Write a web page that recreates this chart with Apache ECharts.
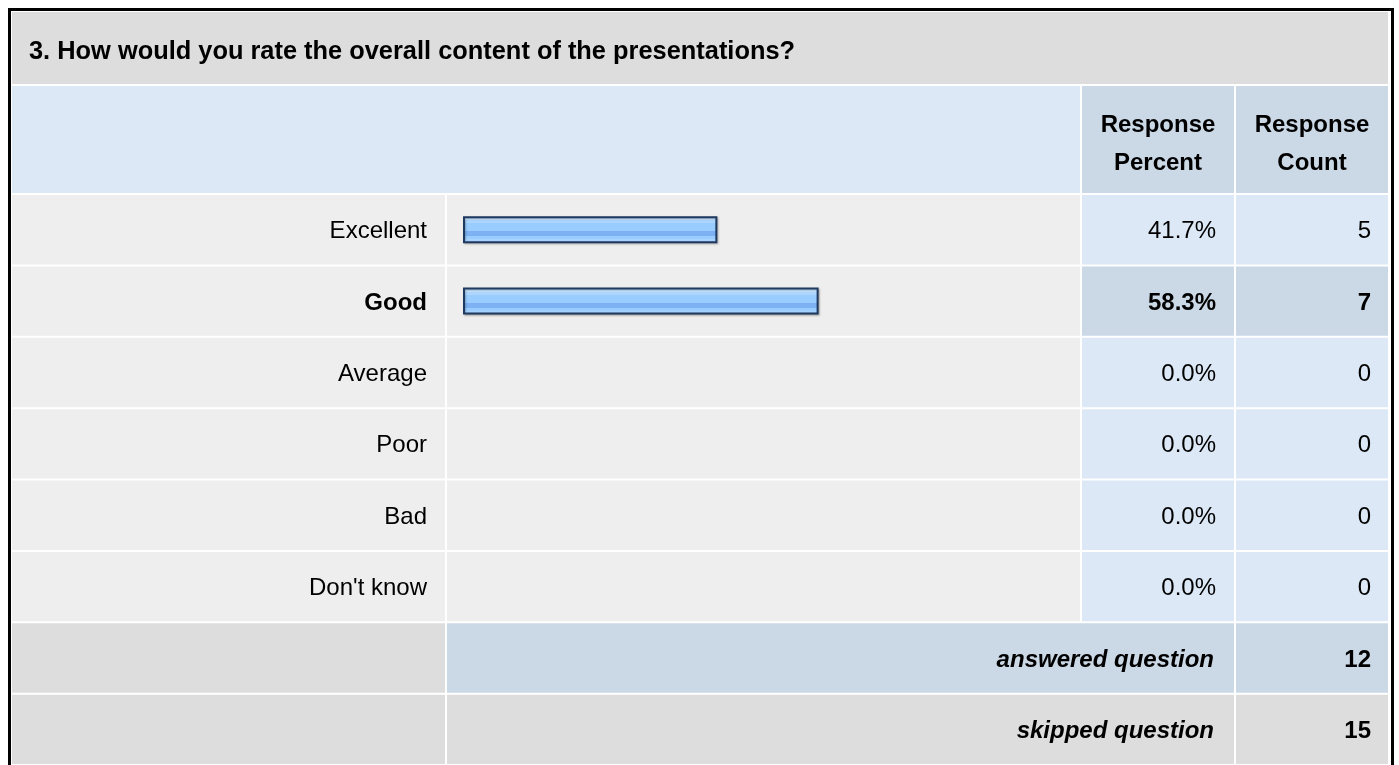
<!DOCTYPE html>
<html>
<head>
<meta charset="utf-8">
<script src="https://cdn.jsdelivr.net/npm/echarts@6/dist/echarts.min.js"></script>
<style>
    html, body { margin: 0; padding: 0; background: #fff; }
    #main { width: 1399px; height: 765px; }
</style>
</head>
<body>
<div id="main"></div>
<script>
const question = '3. How would you rate the overall content of the presentations?';
const headerPercent = ['Response', 'Percent'];
const headerCount = ['Response', 'Count'];
const answers = ['Excellent', 'Good', 'Average', 'Poor', 'Bad', "Don't know"];
const percents = [41.7, 58.3, 0.0, 0.0, 0.0, 0.0];
const counts = [5, 7, 0, 0, 0, 0];
const summaryLabels = ['answered question', 'skipped question'];
const summaryCounts = [12, 15];

(function () {
    const FONT = 'Arial, "Liberation Sans", sans-serif';
    // column edges of the table (px)
    const col = { labelX: 12, labelW: 433, barX: 447, barW: 633, pctX: 1082, pctW: 152, cntX: 1236, cntW: 152 };
    const rows = answers.concat(summaryLabels);
    const topCount = Math.max.apply(null, counts);

    let myChart = echarts.init(document.getElementById('main'), null, { renderer: 'canvas' });

    let txt = (text, x, y, align, font) => ({
        type: 'text',
        style: {
            text: text, x: x, y: y, fill: '#000', font: font,
            textAlign: align, align: align,
            textVerticalAlign: 'middle', verticalAlign: 'middle'
        }
    });
    let cell = (x, y, w, h, color) => ({
        type: 'rect', shape: { x: x, y: y, width: w, height: h }, style: { fill: color }
    });

    // 每一行的单元格和文字
    let renderRow = (params, api) => {
        const i = api.value(1);
        const c = api.coord([0, i]);
        const band = api.size([0, 1])[1];
        const y = c[1] - band / 2 + 1, h = band - 2, mid = c[1] + 2;
        const kids = [];
        if (i < answers.length) {
            const isTop = counts[i] === topCount;
            const side = isTop ? '#cbd8e6' : '#dce8f5';
            kids.push(cell(col.labelX, y, col.labelW, h, '#eeeeee'));
            kids.push(cell(col.barX, y, col.barW, h, '#eeeeee'));
            kids.push(cell(col.pctX, y, col.pctW, h, side));
            kids.push(cell(col.cntX, y, col.cntW, h, side));
            const f = (isTop ? 'bold ' : '') + '24px ' + FONT;
            kids.push(txt(answers[i], 427, mid, 'right', f));
            kids.push(txt(percents[i].toFixed(1) + '%', 1216, mid, 'right', f));
            kids.push(txt(String(counts[i]), 1371, mid, 'right', f));
        } else {
            const k = i - answers.length;
            const side = k === 0 ? '#cbd8e6' : '#dddddd';
            kids.push(cell(col.labelX, y, col.labelW, h, '#dddddd'));
            kids.push(cell(col.barX, y, col.pctX + col.pctW - col.barX, h, side));
            kids.push(cell(col.cntX, y, col.cntW, h, side));
            kids.push(txt(summaryLabels[k], 1214, mid, 'right', 'italic bold 24px ' + FONT));
            kids.push(txt(String(summaryCounts[k]), 1371, mid, 'right', 'bold 24px ' + FONT));
        }
        return { type: 'group', children: kids };
    };

    myChart.setOption({
        animation: false,
        grid: { left: 463, width: 610, top: 194, height: rows.length * 72 },
        xAxis: { type: 'value', min: 0, max: 100, show: false },
        yAxis: { type: 'category', data: rows, inverse: true, show: false },
        graphic: [
            { type: 'rect', shape: { x: 9.5, y: 9.5, width: 1383, height: 800 }, style: { fill: null, stroke: '#000', lineWidth: 3 } },
            { type: 'rect', shape: { x: 12, y: 12, width: 1376, height: 72 }, style: { fill: '#dddddd' } },
            { type: 'text', style: { text: question, x: 29, y: 52, fill: '#000', font: 'bold 25.4px ' + FONT, textVerticalAlign: 'middle', verticalAlign: 'middle' } },
            { type: 'rect', shape: { x: 12, y: 86, width: 1068, height: 107 }, style: { fill: '#dce8f5' } },
            { type: 'rect', shape: { x: col.pctX, y: 86, width: col.pctW, height: 107 }, style: { fill: '#cbd8e6' } },
            { type: 'rect', shape: { x: col.cntX, y: 86, width: col.cntW, height: 107 }, style: { fill: '#cbd8e6' } },
            txt(headerPercent[0], col.pctX + col.pctW / 2, 125, 'center', 'bold 24px ' + FONT),
            txt(headerPercent[1], col.pctX + col.pctW / 2, 163, 'center', 'bold 24px ' + FONT),
            txt(headerCount[0], col.cntX + col.cntW / 2, 125, 'center', 'bold 24px ' + FONT),
            txt(headerCount[1], col.cntX + col.cntW / 2, 163, 'center', 'bold 24px ' + FONT)
        ],
        series: [
            {
                type: 'custom',
                z: 1,
                silent: true,
                renderItem: renderRow,
                data: rows.map((r, i) => [0, i])
            },
            {
                name: 'Response Percent',
                type: 'bar',
                z: 3,
                barWidth: 27,
                data: percents.map(v => v > 0 ? v : '-'),
                itemStyle: {
                    borderColor: '#1f3a60',
                    borderWidth: 2,
                    shadowColor: 'rgba(0,0,0,0.25)',
                    shadowBlur: 2,
                    shadowOffsetX: 1,
                    shadowOffsetY: 1,
                    color: new echarts.graphic.LinearGradient(0, 0, 0, 1, [
                        { offset: 0, color: '#c8e4ff' },
                        { offset: 0.15, color: '#c8e4ff' },
                        { offset: 0.151, color: '#acd6ff' },
                        { offset: 0.26, color: '#acd6ff' },
                        { offset: 0.261, color: '#99ccff' },
                        { offset: 0.56, color: '#99ccff' },
                        { offset: 0.561, color: '#7db1f4' },
                        { offset: 0.74, color: '#7db1f4' },
                        { offset: 0.741, color: '#99ccff' },
                        { offset: 0.85, color: '#99ccff' },
                        { offset: 0.851, color: '#aad4ff' },
                        { offset: 1, color: '#aad4ff' }
                    ])
                }
            }
        ]
    });
})();
</script>
</body>
</html>
